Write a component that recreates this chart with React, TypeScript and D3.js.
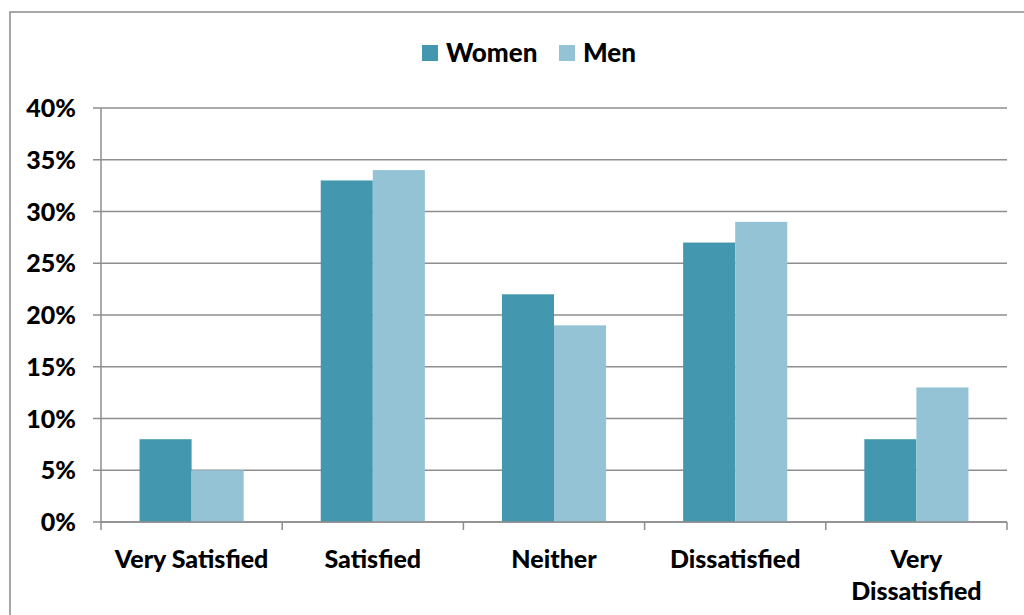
import React from "react";
import * as d3 from "d3";

const categories: string[][] = [["Very Satisfied"], ["Satisfied"], ["Neither"], ["Dissatisfied"], ["Very", "Dissatisfied"]];
const series = ["Women", "Men"];
const women = [8, 33, 22, 27, 8];
const men = [5, 34, 19, 29, 13];
const yTicks = [0, 5, 10, 15, 20, 25, 30, 35, 40];
const colors = ["#4398B0", "#93C3D5"];

const W = 1024, H = 615;
const FONT = "Lato, 'Open Sans', sans-serif";

export default function App() {
  const keys = categories.map((c) => c.join(" "));
  const x = d3.scaleBand<string>().domain(keys).range([101, 1007]).paddingInner(0).paddingOuter(0);
  const xi = d3.scaleBand<string>().domain(series).range([0, x.bandwidth()]).paddingInner(0).paddingOuter(0.74);
  const y = d3.scaleLinear().domain([0, 40]).range([522, 108]);
  const vals = [women, men];
  const gridColor = "#8E8E8E";

  return (
    <svg width={W} height={H} style={{ position: "absolute", left: 0, top: 0 }}>
      <rect x={0} y={0} width={W} height={H} fill="#fff" />
      <rect x={10} y={12} width={W + 20} height={H + 20} fill="none" stroke="#8A8A8A" strokeWidth={1.5} />
      {yTicks.map((t) => (
        <g key={t}>
          <line x1={93} x2={1007} y1={y(t)} y2={y(t)} stroke={gridColor} strokeWidth={1.5} />
          <text x={76} y={y(t)} dy="0.36em" textAnchor="end" fontFamily={FONT} fontWeight={900} fontSize={25} fill="#000">
            {t}%
          </text>
        </g>
      ))}
      {series.map((s, si) =>
        keys.map((k, ci) => (
          <rect
            key={s + k}
            x={(x(k) ?? 0) + (xi(s) ?? 0)}
            y={y(vals[si][ci])}
            width={xi.bandwidth()}
            height={y(0) - y(vals[si][ci])}
            fill={colors[si]}
          />
        ))
      )}
      <line x1={101} x2={101} y1={108} y2={522} stroke={gridColor} strokeWidth={1.5} />
      <line x1={101} x2={1007} y1={522} y2={522} stroke={gridColor} strokeWidth={1.5} />
      {[...keys.map((k) => x(k) ?? 0), 1007].map((px, i) => (
        <line key={i} x1={px} x2={px} y1={522} y2={530} stroke={gridColor} strokeWidth={1.5} />
      ))}
      {categories.map((lines, ci) => (
        <text key={ci} textAnchor="middle" fontFamily={FONT} fontWeight={900} fontSize={25} fill="#000">
          {lines.map((ln, li) => (
            <tspan key={li} x={(x(keys[ci]) ?? 0) + x.bandwidth() / 2} y={568 + li * 32}>
              {ln}
            </tspan>
          ))}
        </text>
      ))}
      <g>
        <rect x={422} y={45} width={16} height={16} fill={colors[0]} />
        <text x={446} y={53} dy="0.36em" fontFamily={FONT} fontWeight={900} fontSize={26} fill="#000">Women</text>
        <rect x={559} y={45} width={16} height={16} fill={colors[1]} />
        <text x={583} y={53} dy="0.36em" fontFamily={FONT} fontWeight={900} fontSize={26} fill="#000">Men</text>
      </g>
    </svg>
  );
}
